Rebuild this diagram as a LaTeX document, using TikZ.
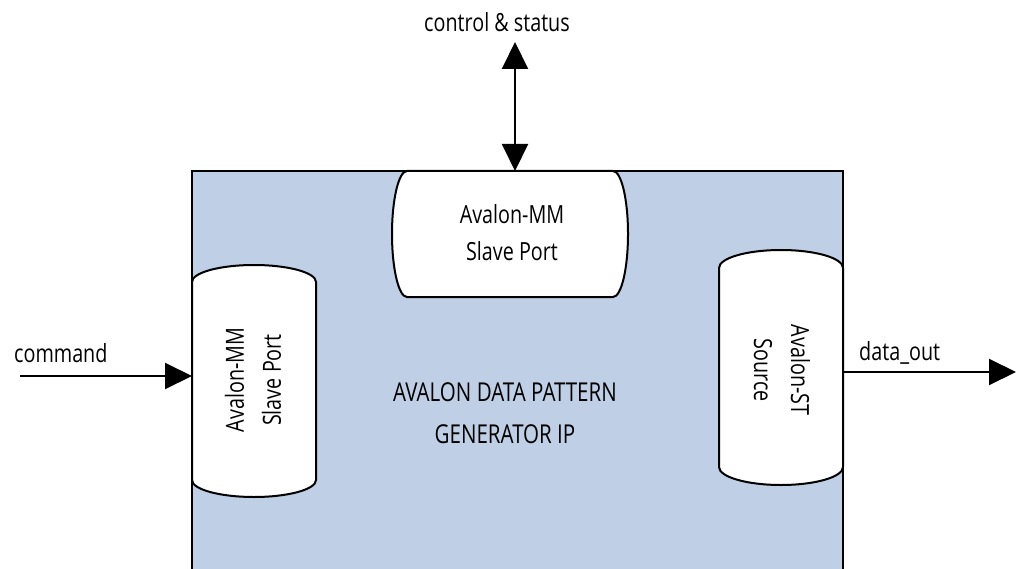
\documentclass[tikz,border=0pt]{standalone}
\usepackage{fontspec}
\setmainfont[FakeStretch=0.79]{Open Sans}
\usetikzlibrary{arrows.meta}
\definecolor{boxblue}{RGB}{191,207,229}
\tikzset{
  lbl/.style={inner sep=0pt, font=\fontsize{25}{37}\selectfont, align=center},
  port/.style={draw=black, fill=white, line width=2pt},
  wire/.style={line width=2pt, draw=black},
  tip/.style={-{Triangle[length=27pt,width=26pt]}},
  tips/.style={{Triangle[length=27pt,width=26pt]}-{Triangle[length=27pt,width=26pt]}}
}
\begin{document}
\begin{tikzpicture}[x=1pt,y=-1pt]
\useasboundingbox (0,0) rectangle (1016,569);
\clip (0,0) rectangle (1016,569);
% main block
\fill[boxblue] (192,171) rectangle (843,600);
\draw[wire] (192,600) -- (192,171) -- (843,171) -- (843,600);
% top port (horizontal cylinder)
\draw[port] (407,171) -- (613,171) arc[start angle=-90, end angle=90, x radius=15, y radius=63]
  -- (407,297) arc[start angle=90, end angle=270, x radius=15, y radius=63] -- cycle;
% left port
\draw[port] (192,282) arc[start angle=180, end angle=360, x radius=62, y radius=17]
  -- (316,480) arc[start angle=0, end angle=180, x radius=62, y radius=17] -- cycle;
% right port
\draw[port] (719,268) arc[start angle=180, end angle=360, x radius=62, y radius=18]
  -- (843,467) arc[start angle=0, end angle=180, x radius=62, y radius=18] -- cycle;
% coordinates for port edges
\coordinate (topport) at (515,171);
\coordinate (leftport) at (192,376);
\coordinate (rightport) at (843,372);
\coordinate (ctrlend) at (515,42);
\coordinate (cmdstart) at (20,376);
\coordinate (outend) at (1016,372);
% texts
\node[lbl] (toptxt) at (512,233) {Avalon-MM\\Slave Port};
\node[lbl, rotate=90] (lefttxt) at (253,380) {Avalon-MM\\Slave Port};
\node[lbl, rotate=-90] (righttxt) at (782,370) {Avalon-ST\\Source};
\node[lbl, font=\fontsize{26}{42}\selectfont] (core) at (505,413) {AVALON DATA PATTERN\\GENERATOR IP};
\node[lbl, anchor=base] (ctrl) at (497,32) {control \& status};
\node[lbl, anchor=base west] (cmd) at (14,362) {command};
\node[lbl, anchor=base west] (dout) at (859,360) {data\_out};
% connectors
\draw[wire, tips] (ctrlend) -- (topport);
\draw[wire, tip] (cmdstart) -- (leftport);
\draw[wire, tip] (rightport) -- (outend);
\end{tikzpicture}
\end{document}
